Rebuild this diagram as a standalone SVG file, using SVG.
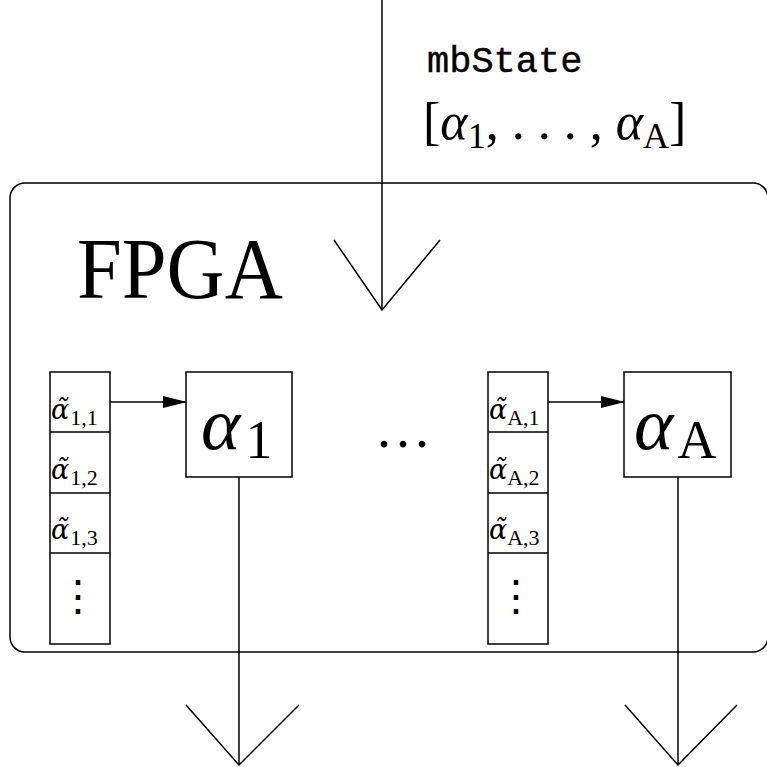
<svg xmlns="http://www.w3.org/2000/svg" width="767" height="767" viewBox="0 0 767 767">
<style>
.ln{stroke:#000;stroke-width:1.5;fill:none}
.bx{stroke:#000;stroke-width:1.5;fill:#fff}
.serif{font-family:"Liberation Serif","Times New Roman",serif;fill:#000}
.it{font-style:italic}
.mono{font-family:"Liberation Mono","Courier New",monospace;fill:#000}
.cell{font-family:"Liberation Serif","Times New Roman",serif;font-size:32px;fill:#000}
.at{font-family:"DejaVu Serif",serif;font-style:italic;font-size:27px}
.sub{font-family:"Liberation Serif","Times New Roman",serif;font-style:normal;font-size:22px}
.vd{font-family:"DejaVu Serif",serif;font-size:42px;fill:#000}
</style>
<defs>
<marker id="tri" markerWidth="24" markerHeight="12" refX="23" refY="6" orient="auto" markerUnits="userSpaceOnUse">
<path d="M0,0 L24,6 L0,12 Z" fill="#000"/>
</marker>
</defs>
<g id="fpga">
<rect x="10" y="183" width="758" height="469" rx="15" ry="15" class="ln"/>
<text x="77" y="298" class="serif" font-size="86" textLength="206" lengthAdjust="spacingAndGlyphs">FPGA</text>
</g>
<g id="input-label">
<text x="427" y="72" class="mono" font-size="37" stroke="#000" stroke-width="0.4">mbState</text>
<text x="423" y="139" class="serif" font-size="52">[<tspan class="it">α</tspan><tspan font-size="36" dy="9">1</tspan><tspan dy="-9">, . . . , </tspan><tspan class="it">α</tspan><tspan font-size="36" dy="9">A</tspan><tspan dy="-9">]</tspan></text>
</g>
<g id="stack1">
<rect x="50" y="372" width="60" height="272" class="bx"/>
<line x1="50" y1="432" x2="110" y2="432" class="ln"/>
<line x1="50" y1="493" x2="110" y2="493" class="ln"/>
<line x1="50" y1="553" x2="110" y2="553" class="ln"/>
<text class="cell" x="51" y="419"><tspan class="at">α̃</tspan><tspan class="sub" dx="1" dy="6">1,1</tspan></text>
<text class="cell" x="51" y="479"><tspan class="at">α̃</tspan><tspan class="sub" dx="1" dy="6">1,2</tspan></text>
<text class="cell" x="51" y="539"><tspan class="at">α̃</tspan><tspan class="sub" dx="1" dy="6">1,3</tspan></text>
<text class="vd" x="78" y="610" text-anchor="middle">⋮</text>
</g>
<g id="alpha1">
<rect x="186" y="372" width="106" height="105" class="bx"/>
<text x="201" y="449" class="serif" font-size="75"><tspan class="it">α</tspan><tspan font-size="54" dx="5" dy="9">1</tspan></text>
</g>
<g id="dots">
<text x="377" y="447" class="serif" font-size="56" letter-spacing="5">...</text>
</g>
<g id="stackA">
<rect x="488" y="372" width="60" height="272" class="bx"/>
<line x1="488" y1="432" x2="548" y2="432" class="ln"/>
<line x1="488" y1="493" x2="548" y2="493" class="ln"/>
<line x1="488" y1="553" x2="548" y2="553" class="ln"/>
<text class="cell" x="489" y="419"><tspan class="at">α̃</tspan><tspan class="sub" dx="0" dy="6">A,1</tspan></text>
<text class="cell" x="489" y="479"><tspan class="at">α̃</tspan><tspan class="sub" dx="0" dy="6">A,2</tspan></text>
<text class="cell" x="489" y="539"><tspan class="at">α̃</tspan><tspan class="sub" dx="0" dy="6">A,3</tspan></text>
<text class="vd" x="516" y="610" text-anchor="middle">⋮</text>
</g>
<g id="alphaA">
<rect x="624" y="372" width="107" height="105" class="bx"/>
<text x="634" y="449" class="serif" font-size="75"><tspan class="it">α</tspan><tspan font-size="54" dx="4" dy="9">A</tspan></text>
</g>
<g id="connectors">
<line x1="382" y1="0" x2="382" y2="310" class="ln"/>
<polyline points="334,240 382,310 440,240" class="ln"/>
<line x1="110" y1="402" x2="186" y2="402" class="ln" marker-end="url(#tri)"/>
<line x1="548" y1="402" x2="624" y2="402" class="ln" marker-end="url(#tri)"/>
<line x1="239" y1="477" x2="239" y2="765" class="ln"/>
<polyline points="186,705 239,765 299,705" class="ln"/>
<line x1="678" y1="477" x2="678" y2="765" class="ln"/>
<polyline points="625,705 678,765 737,705" class="ln"/>
</g>
</svg>
